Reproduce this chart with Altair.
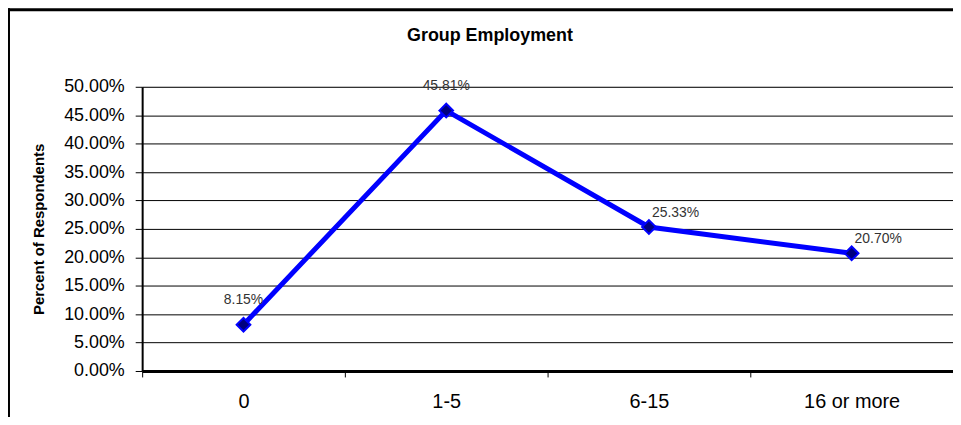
import altair as alt
import pandas as pd

categories = ["0", "1-5", "6-15", "16 or more"]
values = [0.0815, 0.4581, 0.2533, 0.2070]
labels = ["8.15%", "45.81%", "25.33%", "20.70%"]
label_side = ["above", "above", "right", "right"]
y_ticks = [0.0, 0.05, 0.10, 0.15, 0.20, 0.25, 0.30, 0.35, 0.40, 0.45, 0.50]
chart_title = "Group Employment"

df = pd.DataFrame({"cat": categories, "val": values, "lab": labels, "side": label_side})

FONT = "Liberation Sans"

x_enc = alt.X(
    "cat:N",
    sort=categories,
    scale=alt.Scale(type="band", paddingInner=0, paddingOuter=0),
    axis=alt.Axis(
        title=None, labelAngle=0, tickBand="extent", tickSize=6, tickColor="black",
        tickWidth=1, domainColor="black", domainWidth=3, labelFont=FONT,
        labelFontSize=20, labelColor="black", labelPadding=15, grid=False,
    ),
)
y_enc = alt.Y(
    "val:Q",
    scale=alt.Scale(domain=[0, 0.5], nice=False, zero=True),
    axis=alt.Axis(
        title="Percent of Respondents", values=y_ticks, format=".2%",
        tickSize=7, tickColor="black", tickWidth=1, domainColor="black",
        domainWidth=2, labelFont=FONT, labelFontSize=18, labelColor="black",
        labelPadding=11, grid=True, gridColor="black", gridWidth=1,
        titleFont=FONT, titleFontSize=15, titleFontWeight="bold",
        titleColor="black", titlePadding=17,
    ),
)

base = alt.Chart(df)

line = base.mark_line(color="#0000FF", strokeWidth=5).encode(x=x_enc, y=y_enc)
pts = base.mark_point(
    shape="diamond", size=190, filled=True, fill="#000080", stroke="#0000FF",
    strokeWidth=2, opacity=1,
).encode(x=x_enc, y=y_enc)

txt_above = base.transform_filter(alt.datum.side == "above").mark_text(
    font=FONT, fontSize=14, color="#333333", align="center", baseline="middle", dy=-25,
).encode(x=x_enc, y=y_enc, text="lab:N")
txt_right = base.transform_filter(alt.datum.side == "right").mark_text(
    font=FONT, fontSize=14, color="#333333", align="left", baseline="middle", dx=3, dy=-14,
).encode(x=x_enc, y=y_enc, text="lab:N")

frame_data = alt.Data(values=[{"k": 1}])
left_border = alt.Chart(frame_data).mark_rule(color="black", strokeWidth=3).encode(
    x=alt.value(-134.5), y=alt.value(-79), y2=alt.value(340)
)
top_border = alt.Chart(frame_data).mark_rule(color="black", strokeWidth=3).encode(
    x=alt.value(-136), x2=alt.value(830), y=alt.value(-77.5)
)
title_mark = alt.Chart(frame_data).mark_text(
    font=FONT, fontSize=18, fontWeight="bold", color="black",
    align="center", baseline="alphabetic",
).encode(x=alt.value(350), y=alt.value(-46), text=alt.value(chart_title))

chart = alt.layer(
    line, pts, txt_above, txt_right, left_border, top_border, title_mark
).properties(
    width=816,
    height=286,
    autosize=alt.AutoSizeParams(type="none"),
    padding={"left": 135, "top": 78, "right": 0, "bottom": 45},
).configure_view(stroke=None).configure(background="white")

chart.save("out.html", embed_options={"renderer": "svg", "actions": False})
